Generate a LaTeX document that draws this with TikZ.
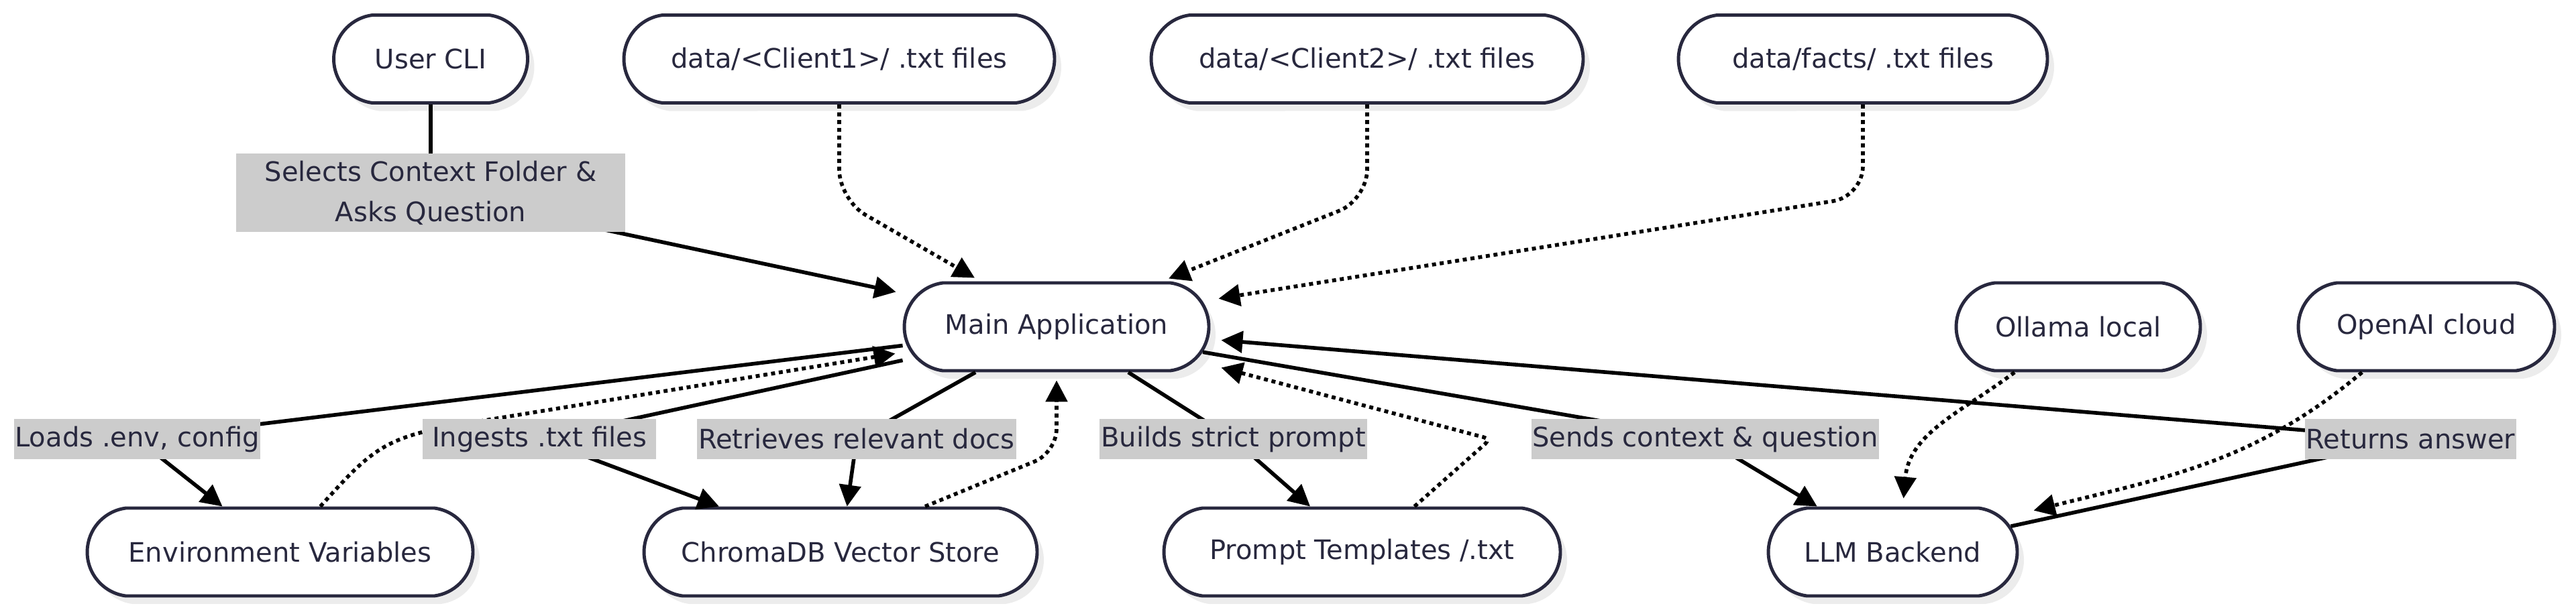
\documentclass[tikz,border=0pt]{standalone}
\usepackage{fontspec}
\setmainfont{DejaVu Sans}
\usepackage{tikz}
\usetikzlibrary{shapes.misc, arrows.meta, positioning, shadows}
\definecolor{FlowInk}{RGB}{40,40,62}
\definecolor{FlowLabel}{RGB}{204,204,204}
\definecolor{FlowShadow}{RGB}{236,236,236}
\pgfdeclarelayer{front}
\pgfsetlayers{main,front}

\begin{document}
\begin{tikzpicture}[
  stadium/.style={draw=FlowInk, line width=1.4pt, fill=white, rounded rectangle,
                  rounded rectangle arc length=165, minimum height=1.31cm, inner xsep=2pt,
                  text=FlowInk, font=\fontsize{11.4pt}{17.1pt}\selectfont,
                  drop shadow={shadow xshift=0.1cm, shadow yshift=-0.12cm, fill=FlowShadow, opacity=1}},
  elbl/.style={fill=FlowLabel, text=FlowInk, font=\fontsize{11.4pt}{17.1pt}\selectfont,
               align=center, inner xsep=0.5pt, inner ysep=0.11cm, minimum height=0.6cm},
  arr/.style={-{Triangle[length=3.2mm, width=3.2mm]}, line width=1.6pt, black},
  darr/.style={arr, dash pattern=on 1.7pt off 1.6pt},
]
\useasboundingbox (0,0) rectangle (38.4,-9.15);
%% Top row: inputs
\node[stadium, minimum width=3.03cm] (cli) at (6.42,-0.88) {User CLI};
\node[stadium, minimum width=6.56cm] (client1) at (12.51,-0.88) {data/<Client1>/ .txt files};
\node[stadium, minimum width=6.58cm] (client2) at (20.38,-0.88) {data/<Client2>/ .txt files};
\node[stadium, minimum width=5.64cm] (facts) at (27.77,-0.88) {data/facts/ .txt files};
%% Middle row
\node[stadium, minimum width=4.68cm] (main) at (15.75,-4.875) {Main Application};
\node[stadium, minimum width=3.78cm] (ollama) at (30.98,-4.875) {Ollama local};
\node[stadium, minimum width=3.96cm] (openai) at (36.17,-4.875) {OpenAI cloud};
%% Bottom row
\node[stadium, minimum width=5.89cm] (env) at (4.175,-8.235) {Environment Variables};
\node[stadium, minimum width=6.00cm] (chroma) at (12.53,-8.235) {ChromaDB Vector Store};
\node[stadium, minimum width=6.05cm] (prompt) at (20.305,-8.235) {Prompt Templates /.txt};
\node[stadium, minimum width=3.85cm] (llm) at (28.215,-8.235) {LLM Backend};
%% Edge labels
\begin{pgfonlayer}{front}
\node[elbl, minimum width=5.8cm] (lblSel) at (6.42,-2.875) {Selects Context Folder \&\\Asks Question};
\node[elbl] (lblLoads) at (2.045,-6.55) {Loads .env, config};
\node[elbl, minimum width=3.48cm] (lblIngest) at (8.04,-6.55) {Ingests .txt files};
\node[elbl] (lblRetr) at (12.77,-6.55) {Retrieves relevant docs};
\node[elbl] (lblBuild) at (18.385,-6.55) {Builds strict prompt};
\node[elbl] (lblSends) at (25.42,-6.55) {Sends context \& question};
\node[elbl] (lblRet) at (35.935,-6.55) {Returns answer};
\end{pgfonlayer}
%% Bends
\coordinate (envJoin) at (6.80,-6.34);
\coordinate (chromaBend) at (15.75,-6.75);
\coordinate (promptBend) at (22.22,-6.55);
%% Into the main application
\draw[arr] (cli) -- (lblSel.center) -- ([xshift=-0.1cm,yshift=0.52cm]main.west);
\draw[darr, rounded corners=0.45cm] (client1.south) -- ++(0,-1.42) -- ([xshift=-1.22cm,yshift=0.05cm]main.north);
\draw[darr, rounded corners=0.45cm] (client2.south) -- ++(0,-1.42) -- ([xshift=1.67cm,yshift=0.04cm]main.north);
\draw[darr, rounded corners=0.45cm] (facts.south) -- ++(0,-1.37) -- ([xshift=0.12cm,yshift=0.42cm]main.east);
%% Out of the main application
\draw[arr] ([yshift=-0.28cm]main.west) -- (lblLoads.center) -- (env);
\draw[darr] ([xshift=0.6cm]env.north) to[out=48, in=190, looseness=1.2] (envJoin) -- ([xshift=-0.11cm,yshift=-0.40cm]main.west);
\draw[arr] ([yshift=-0.5cm]main.west) -- (lblIngest.center) -- (chroma);
\draw[arr] (main) -- (lblRetr.center) -- (chroma);
\draw[darr, rounded corners=0.35cm] ([xshift=1.26cm]chroma.north) -- (chromaBend) -- ([yshift=-0.12cm]main.south);
\draw[arr] (main) -- (lblBuild.center) -- (prompt);
\draw[darr, rounded corners=3pt] ([xshift=0.78cm]prompt.north) -- (promptBend) -- ([xshift=0.16cm,yshift=-0.61cm]main.east);
\draw[arr] (main) -- (lblSends.center) -- (llm);
\draw[arr] (llm) -- (lblRet.center) -- ([xshift=0.16cm,yshift=-0.2cm]main.east);
%% LLM providers
\draw[darr] ([xshift=-0.95cm]ollama.south) to[out=-143, in=85] ([xshift=0.16cm,yshift=0.12cm]llm.north);
\draw[darr] ([xshift=-0.96cm]openai.south) to[out=-140, in=14] ([xshift=2.1cm,yshift=-0.06cm]llm.north);
\end{tikzpicture}
\end{document}
